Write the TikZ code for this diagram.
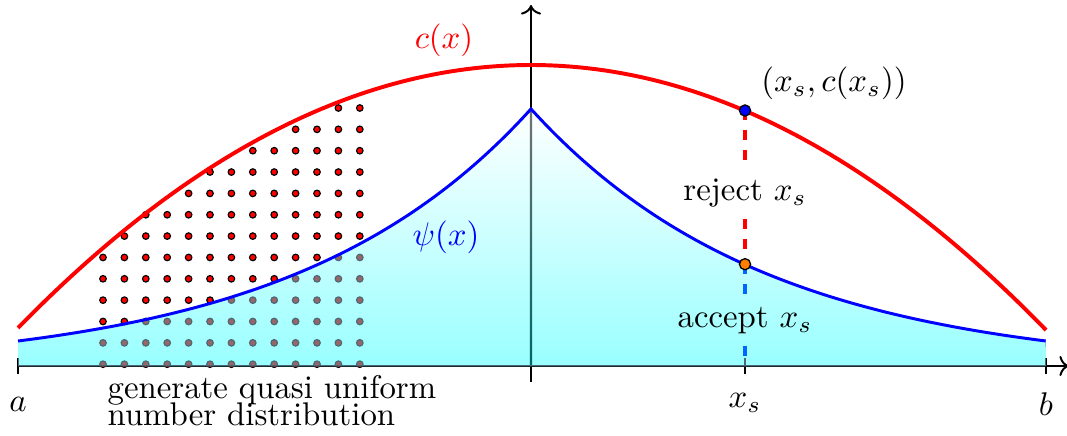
\documentclass[tikz,border=0pt]{standalone}
\usetikzlibrary{arrows.meta}
\begin{document}
\begin{tikzpicture}[x=0.3048pt,y=-0.3048pt,
  axisline/.style={black, line width=0.6pt},
  tickmark/.style={black, line width=0.6pt},
  ccurve/.style={red, line width=1.2pt},
  psicurve/.style={blue, line width=0.9pt},
  gridpt/.style={fill=red, draw=black, line width=0.35pt},
  gridptbehind/.style={fill=red!60!cyan, draw=cyan!40!black, line width=0.35pt},
  rejdash/.style={red, dashed, line width=1pt},
  accdashbehind/.style={blue!60!cyan, dashed, line width=1pt},
  axisbehind/.style={cyan!40!black, line width=0.6pt},
  bigpt/.style={draw=black, line width=0.4pt},
  psifill/.style={top color=white, bottom color=cyan!40}
]
\useasboundingbox (0,0) rectangle (1067,435);

% named coordinates
\coordinate (A) at (18,366);
\coordinate (B) at (1046,366);
\coordinate (XS) at (745,366);
\coordinate (Xend) at (1069,366);
\coordinate (Ybot) at (531,382);
\coordinate (Ytop) at (531,5);
\coordinate (bp) at (745,110.5);
\coordinate (op) at (745,264.2);

% axes
\draw[axisline,->] (A) -- (Xend);
\draw[axisline,->] (Ybot) -- (Ytop);
\draw[tickmark] ([yshift=8*0.3048pt]A) -- ([yshift=-8*0.3048pt]A);
\draw[tickmark] ([yshift=8*0.3048pt]B) -- ([yshift=-8*0.3048pt]B);
\draw[tickmark] ([yshift=8*0.3048pt]XS) -- ([yshift=-8*0.3048pt]XS);

% quasi uniform grid of points
\foreach \i/\js in {0/7,1/6,2/5,3/5,4/4,5/3,6/3,7/2,8/2,9/1,10/1,11/0,12/0}{
  \foreach \j in {\js,...,12}{
    \filldraw[gridpt] ({103+21.4*\i},{108+21.35*\j}) circle[radius=1pt];
  }
}

% reject label and dashed line
\node (rej) at (745,193.5) {reject $x_s$};
\draw[rejdash] (bp) -- (rej.north);
\draw[rejdash] (rej.south) -- (op);

% filled area under psi
\fill[psifill] (A)
  -- plot[domain=0:1, samples=80, variable=\t] ({18+513*\t},{371-262*exp(-2.167*(1-\t))})
  -- plot[domain=0:1, samples=80, variable=\t] ({531+515*\t},{371-262*exp(-2.167*\t)})
  -- (B) -- cycle;

% accept label (on top of the fill)
\node (acc) at (745,321) {accept $x_s$};

% what shows through the translucent fill
\begin{scope}
  \clip (A)
  -- plot[domain=0:1, samples=80, variable=\t] ({18+513*\t},{371-262*exp(-2.167*(1-\t))})
  -- plot[domain=0:1, samples=80, variable=\t] ({531+515*\t},{371-262*exp(-2.167*\t)})
  -- (B) -- cycle;
  \foreach \i/\js in {0/7,1/6,2/5,3/5,4/4,5/3,6/3,7/2,8/2,9/1,10/1,11/0,12/0}{
    \foreach \j in {\js,...,12}{
      \filldraw[gridptbehind] ({103+21.4*\i},{108+21.35*\j}) circle[radius=1pt];
    }
  }
  \shade[top color=black!55, bottom color=cyan!40!black] (529.9,105) rectangle (532.1,366);
  \draw[axisbehind] (A) -- (B);
  \draw[axisbehind] ([yshift=8*0.3048pt]A) -- (A);
  \draw[axisbehind] ([yshift=8*0.3048pt]B) -- (B);
  \draw[axisbehind] ([yshift=8*0.3048pt]XS) -- (XS);
  \draw[accdashbehind] (op) -- (acc.north);
  \draw[accdashbehind] (acc.south) -- (XS);
\end{scope}

% curves
\draw[psicurve]
  plot[domain=0:1, samples=80, variable=\t] ({18+513*\t},{371-262*exp(-2.167*(1-\t))})
  -- plot[domain=0:1, samples=80, variable=\t] ({531+515*\t},{371-262*exp(-2.167*\t)});
\draw[ccurve] plot[domain=18:1046, samples=120, variable=\t]
  (\t,{65+264*((\t-531)/514)*((\t-531)/514)});

% special points
\filldraw[bigpt, fill=blue] (bp) circle[radius=1.7pt];
\filldraw[bigpt, fill=orange] (op) circle[radius=1.7pt];

% other labels
\node[text=red] (clab) at (444,40) {$c(x)$};
\node[text=blue] (psilab) at (446,237) {$\psi(x)$};
\node (ptlab) at (834,83) {$(x_s,c(x_s))$};
\node (xslab) at (745,403) {$x_s$};
\node (alab) at (18,404) {$a$};
\node (blab) at (1046,404) {$b$};
\node[align=left, anchor=north west, inner sep=0pt] (gen) at (107,375)
  {generate quasi uniform\\[-3.8pt]number distribution};
\end{tikzpicture}
\end{document}
